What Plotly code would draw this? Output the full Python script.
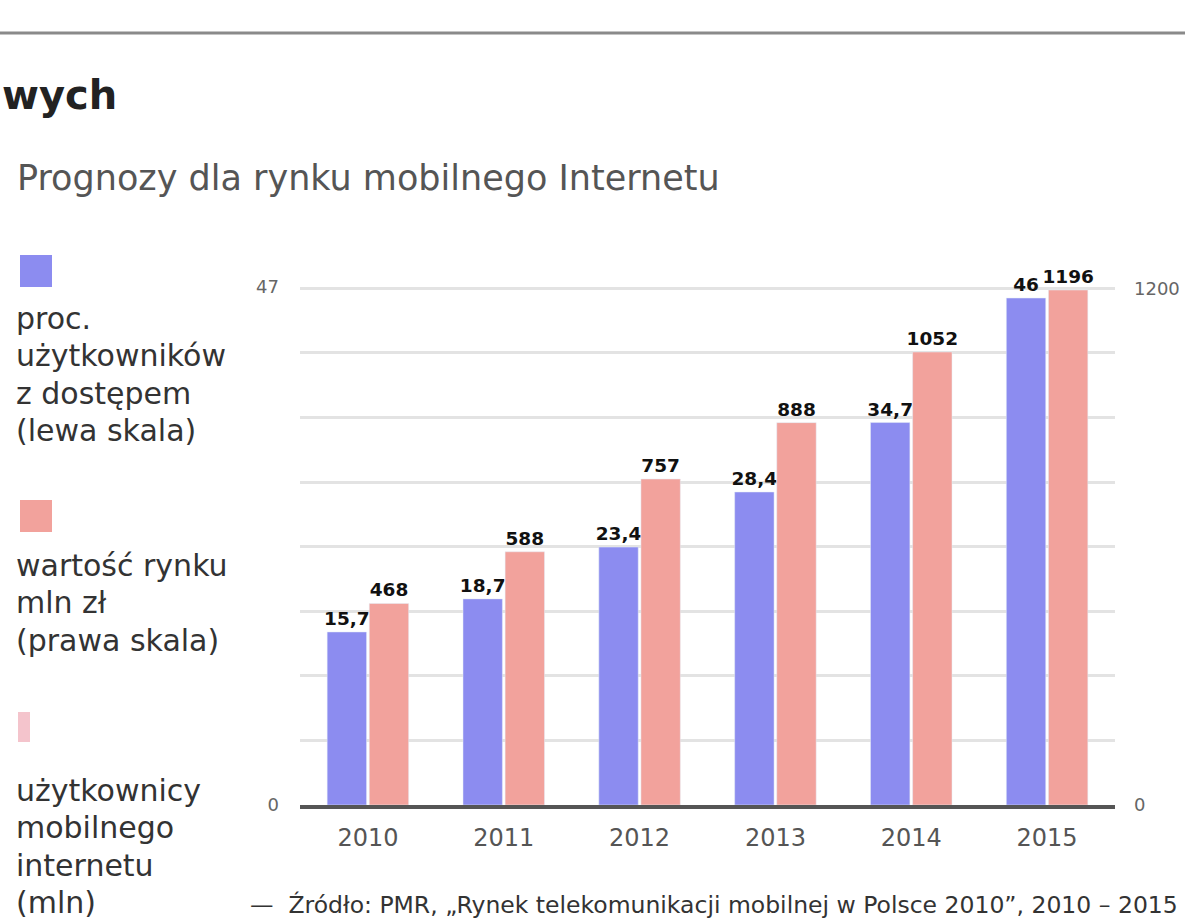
import plotly.graph_objects as go

# ---- data ----
years = ["2010", "2011", "2012", "2013", "2014", "2015"]
users_pct = [15.7, 18.7, 23.4, 28.4, 34.7, 46]          # left scale
market_mln = [468, 588, 757, 888, 1052, 1196]           # right scale
left_ticks = [0, 47]
right_grid = [0, 150, 300, 450, 600, 750, 900, 1050, 1200]
right_labels = ["0", "", "", "", "", "", "", "", "1200"]

W, H = 1200, 923
L, R, T, B = 300, 1115, 287, 805

def px(x):
    return (x - L) / (R - L)

def py(y):
    return (B - y) / (B - T)

def fmt(v):
    s = ("%g" % v).replace(".", ",")
    return "<b>" + s + "</b>"

BLUE = "#8c8cf0"
PINK = "#f2a29c"
FONT = "DejaVu Sans"

fig = go.Figure()
fig.add_trace(go.Bar(
    x=years, y=users_pct, yaxis="y", marker_color=BLUE,
    width=0.29, offset=-0.30,
    text=[fmt(v) for v in users_pct], textposition="outside",
    textfont=dict(size=18.5, color="#111", family=FONT),
    constraintext="none", cliponaxis=False, showlegend=False,
))
fig.add_trace(go.Bar(
    x=years, y=market_mln, yaxis="y2", marker_color=PINK,
    width=0.29, offset=0.01,
    text=[fmt(v) for v in market_mln], textposition="outside",
    textfont=dict(size=18.5, color="#111", family=FONT),
    constraintext="none", cliponaxis=False, showlegend=False,
))

annotations = []
shapes = []

# top rule
shapes.append(dict(type="line", xref="paper", yref="paper",
                   x0=px(0), x1=px(1185), y0=py(33), y1=py(33),
                   line=dict(color="#8a8a8a", width=3)))

# title and subtitle
annotations.append(dict(text="<b>wych</b>", xref="paper", yref="paper",
                        x=px(0), y=py(95), xanchor="left", yanchor="middle",
                        showarrow=False, font=dict(size=40, color="#222", family=FONT)))
annotations.append(dict(text="Prognozy dla rynku mobilnego Internetu", xref="paper", yref="paper",
                        x=px(15), y=py(178), xanchor="left", yanchor="middle",
                        showarrow=False, font=dict(size=35, color="#555", family=FONT)))

# custom legend
legend_items = [
    (BLUE, (20, 255, 52, 287), ["proc.", "użytkowników", "z dostępem", "(lewa skala)"], 318),
    (PINK, (20, 500, 52, 532), ["wartość rynku", "mln zł", "(prawa skala)"], 565),
    ("#f4c4cc", (18, 712, 30, 742), ["użytkownicy", "mobilnego", "internetu", "(mln)"], 790),
]
for color, (x0, y0, x1, y1), lines, ystart in legend_items:
    shapes.append(dict(type="rect", xref="paper", yref="paper",
                       x0=px(x0), x1=px(x1), y0=py(y0), y1=py(y1),
                       fillcolor=color, line=dict(width=0)))
    for i, ln in enumerate(lines):
        annotations.append(dict(text=ln, xref="paper", yref="paper",
                                x=px(14), y=py(ystart + i * 37.5),
                                xanchor="left", yanchor="middle", showarrow=False,
                                font=dict(size=30, color="#333", family=FONT)))

# source footer
annotations.append(dict(text="—  Źródło: PMR, „Rynek telekomunikacji mobilnej w Polsce 2010”, 2010 – 2015",
                        xref="paper", yref="paper", x=px(248), y=py(905),
                        xanchor="left", yanchor="middle", showarrow=False,
                        font=dict(size=23.5, color="#333", family=FONT)))

fig.update_layout(
    width=W, height=H,
    margin=dict(l=L, r=W - R, t=T, b=H - B, pad=0),
    paper_bgcolor="white", plot_bgcolor="white",
    barmode="overlay",
    font=dict(family=FONT, color="#444"),
    xaxis=dict(type="category", showline=True, linecolor="#555", linewidth=4,
               ticks="", tickfont=dict(size=24, color="#555"), showgrid=False,
               zeroline=False, ticklabelstandoff=8),
    yaxis=dict(range=[0, 47], tickvals=left_ticks, showgrid=False, zeroline=False,
               tickfont=dict(size=18, color="#666"), ticks="", ticklabelstandoff=20),
    yaxis2=dict(range=[0, 1203], overlaying="y", side="right",
                tickvals=right_grid, ticktext=right_labels,
                showgrid=True, gridcolor="#e3e3e3", gridwidth=3,
                zeroline=False, ticks="", tickfont=dict(size=18, color="#666"),
                ticklabelstandoff=18),
    annotations=annotations,
    shapes=shapes,
)

fig.write_html("out.html", config={"displayModeBar": False},
               post_script="document.body.style.margin='0';")
